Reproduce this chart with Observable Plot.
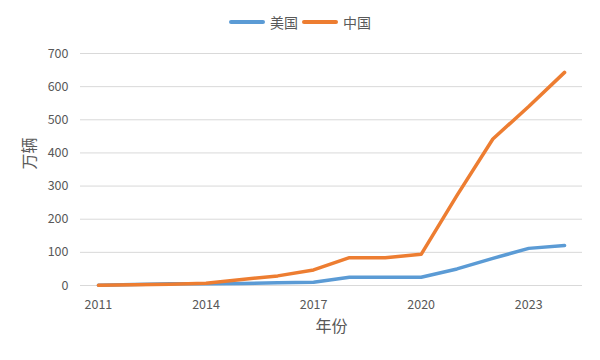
<!DOCTYPE html>
<html>
<head>
<meta charset="utf-8">
<script src="https://cdn.jsdelivr.net/npm/d3@7"></script>
<script src="https://cdn.jsdelivr.net/npm/@observablehq/plot@0.6"></script>
<style>
  html, body { margin: 0; padding: 0; background: #fff; }
  #wrap { position: relative; width: 600px; height: 360px; font-family: "Noto Sans CJK SC", "Noto Sans", sans-serif; }
  #legend { position: absolute; top: 12px; left: 0; width: 600px; display: flex; justify-content: center; align-items: center; font-size: 14px; color: #595959; gap: 0; }
  .item { display: flex; align-items: center; margin: 0 2px; }
  .sw { width: 36px; height: 4px; border-radius: 2px; margin-right: 5px; }
</style>
</head>
<body>
<div id="wrap">
  <div id="legend"></div>
</div>
<script>
const years = [2011, 2012, 2013, 2014, 2015, 2016, 2017, 2018, 2019, 2020, 2021, 2022, 2023, 2024];
const usValues = [1, 3, 5, 5, 6, 8, 10, 25, 25, 25, 50, 82, 112, 121];
const chinaValues = [1, 2, 4, 7, 18, 29, 47, 84, 84, 94, 272, 442, 540, 643];
const seriesNames = ["美国", "中国"];
const seriesColors = ["#5B9BD5", "#ED7D31"];
const xTicks = [2011, 2014, 2017, 2020, 2023];
const yTicks = [0, 100, 200, 300, 400, 500, 600, 700];
const xTitle = "年份";
const yTitle = "万辆";

const rows = [];
years.forEach((y, i) => {
  rows.push({year: y, value: usValues[i], series: seriesNames[0]});
  rows.push({year: y, value: chinaValues[i], series: seriesNames[1]});
});

const font = '"Noto Sans CJK SC", "Noto Sans", sans-serif';

const chart = Plot.plot({
  width: 600,
  height: 360,
  marginLeft: 80,
  marginRight: 18,
  marginTop: 53,
  marginBottom: 75,
  style: {fontFamily: font, color: "#595959", background: "#fff"},
  x: {type: "linear", domain: [years[0] - 0.5, years[years.length - 1] + 0.5], label: null},
  y: {domain: [0, 700], label: null},
  color: {domain: seriesNames, range: seriesColors},
  marks: [
    Plot.gridY(yTicks, {stroke: "#d9d9d9", strokeOpacity: 1, strokeWidth: 1}),
    Plot.axisY({ticks: yTicks, tickSize: 0, tickPadding: 12, fontSize: 12.5, fill: "#595959", label: null}),
    Plot.axisX({ticks: xTicks, tickFormat: d => String(d), tickSize: 0, tickPadding: 15, fontSize: 12.5, fill: "#595959", label: null}),
    Plot.line(rows, {x: "year", y: "value", z: "series", stroke: "series", strokeWidth: 3.5, strokeLinejoin: "round", strokeLinecap: "round"}),
    Plot.text([yTitle], {frameAnchor: "left", dx: -51, rotate: -90, fontSize: 16, fill: "#595959"}),
    Plot.text([xTitle], {frameAnchor: "bottom", dy: 46, fontSize: 16, fill: "#595959"})
  ]
});

document.getElementById("wrap").appendChild(chart);
chart.style.position = "absolute";
chart.style.left = "0";
chart.style.top = "0";

const legend = document.getElementById("legend");
legend.style.zIndex = 2;
seriesNames.forEach((name, i) => {
  const item = document.createElement("div");
  item.className = "item";
  const sw = document.createElement("div");
  sw.className = "sw";
  sw.style.background = seriesColors[i];
  const label = document.createElement("span");
  label.textContent = name;
  item.appendChild(sw);
  item.appendChild(label);
  legend.appendChild(item);
});
</script>
</body>
</html>
